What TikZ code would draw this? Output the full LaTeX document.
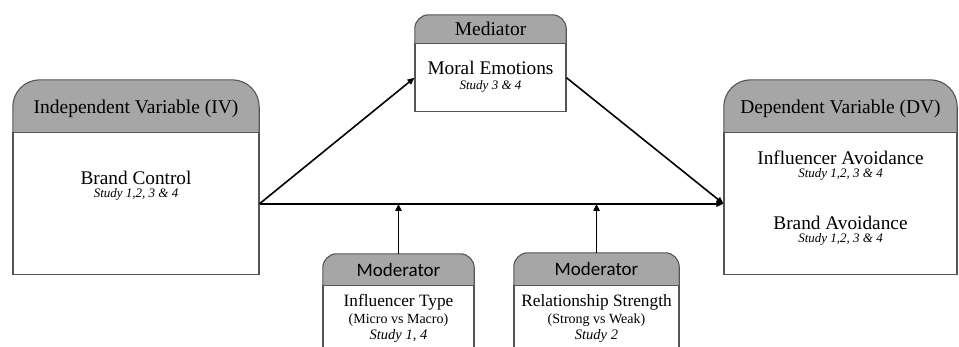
\documentclass[tikz,border=0pt]{standalone}
\usepackage{fontspec}
\setmainfont{Liberation Serif}
\newfontfamily\modfont{Carlito}
\usetikzlibrary{arrows.meta,positioning}

\definecolor{headgray}{RGB}{166,166,166}
\definecolor{boxline}{RGB}{85,85,85}

\pgfdeclarelayer{background}
\pgfsetlayers{background,main}

\tikzset{
  hdr/.style={inner sep=0pt, font=\fontsize{19.5}{22}\selectfont},
  body/.style={draw=boxline, line width=1.1pt, fill=white, inner sep=0pt},
  headshape/.style={fill=headgray, draw=boxline, line width=1.1pt},
  bigtxt/.style={anchor=base, inner sep=0pt, font=\fontsize{19.3}{22}\selectfont},
  modtxt/.style={anchor=base, inner sep=0pt, font=\fontsize{17.3}{20}\selectfont},
  paren/.style={anchor=base, inner sep=0pt, font=\fontsize{14}{16}\selectfont},
  study/.style={anchor=base, inner sep=0pt, font=\fontsize{13}{15}\selectfont\itshape},
  modstudy/.style={anchor=base, inner sep=0pt, font=\fontsize{14.5}{16}\selectfont\itshape},
  arr/.style={-{Triangle[length=7pt,width=6pt]}, line width=1.6pt, black}
}

\begin{document}
\begin{tikzpicture}[x=1pt,y=-1pt]
  \useasboundingbox (0,0) rectangle (959,346);
  \clip (0,0) rectangle (959,346);

  % independent variable
  \node[hdr, minimum width=246pt, minimum height=52pt] (ivh) at (136,106) {};
  \node[body, minimum width=246pt, minimum height=142pt, below=0pt of ivh] (iv) {};
  \node[hdr, anchor=base] (ivhtxt) at (136,113) {Independent Variable (IV)};
  \node[bigtxt] (ivname) at (136,184) {Brand Control};
  \node[study] (ivstudy) at (136,197) {Study 1,2, 3 \& 4};

  % mediator
  \node[hdr, minimum width=151pt, minimum height=28pt] (medh) at (490.5,29) {};
  \node[body, minimum width=151pt, minimum height=68pt, below=0pt of medh] (med) {};
  \node[hdr, anchor=base] (medhtxt) at (490.5,35) {Mediator};
  \node[bigtxt] (medname) at (490.5,74) {Moral Emotions};
  \node[study] (medstudy) at (490.5,89) {Study 3 \& 4};

  % dependent variable
  \node[hdr, minimum width=233pt, minimum height=52pt] (dvh) at (840.5,106) {};
  \node[body, minimum width=233pt, minimum height=142pt, below=0pt of dvh] (dv) {};
  \node[hdr, anchor=base] (dvhtxt) at (840.5,113) {Dependent Variable (DV)};
  \node[bigtxt] (dvname1) at (840.5,164) {Influencer Avoidance};
  \node[study] (dvstudy1) at (840.5,177) {Study 1,2, 3 \& 4};
  \node[bigtxt] (dvname2) at (840.5,229) {Brand Avoidance};
  \node[study] (dvstudy2) at (840.5,242) {Study 1,2, 3 \& 4};

  % moderators
  \node[hdr, minimum width=151pt, minimum height=31pt] (moda) at (398.5,269.5) {};
  \node[body, minimum width=151pt, minimum height=80pt, below=0pt of moda] (modabody) {};
  \node[hdr, anchor=base, font=\modfont\fontsize{19}{22}\selectfont] (modatxt) at (398.5,276) {Moderator};
  \node[modtxt] (modaname) at (398.5,306) {Influencer Type};
  \node[paren] (modaparen) at (398.5,323) {(Micro vs Macro)};
  \node[modstudy] (modastudy) at (398.5,339) {Study 1, 4};

  \node[hdr, minimum width=165pt, minimum height=32pt] (modb) at (596.5,269) {};
  \node[body, minimum width=165pt, minimum height=80pt, below=0pt of modb] (modbbody) {};
  \node[hdr, anchor=base, font=\modfont\fontsize{19}{22}\selectfont] (modbtxt) at (596.5,275) {Moderator};
  \node[modtxt] (modbname) at (596.5,306) {Relationship Strength};
  \node[paren] (modbparen) at (596.5,323) {(Strong vs Weak)};
  \node[modstudy] (modbstudy) at (596.5,339) {Study 2};

  % header shapes
  \begin{pgfonlayer}{background}
    \draw[headshape, rounded corners=27pt] (ivh.south west) -- (ivh.north west) -- (ivh.north east) -- (ivh.south east);
    \draw[headshape, rounded corners=27pt] (dvh.south west) -- (dvh.north west) -- (dvh.north east) -- (dvh.south east);
    \draw[headshape, rounded corners=14pt] (medh.south west) -- (medh.north west) -- (medh.north east) -- (medh.south east);
    \draw[headshape, rounded corners=14pt] (moda.south west) -- (moda.north west) -- (moda.north east) -- (moda.south east);
    \draw[headshape, rounded corners=14pt] (modb.south west) -- (modb.north west) -- (modb.north east) -- (modb.south east);
  \end{pgfonlayer}

  % paths
  \draw[arr] (iv.east) -- (dv.west);
  \draw[arr] (iv.east) -- (med.west);
  \draw[arr] (med.east) -- (dv.west);
  \draw[arr] (moda.north) -- (moda.north |- iv.east);
  \draw[arr] (modb.north) -- (modb.north |- iv.east);
\end{tikzpicture}
\end{document}
